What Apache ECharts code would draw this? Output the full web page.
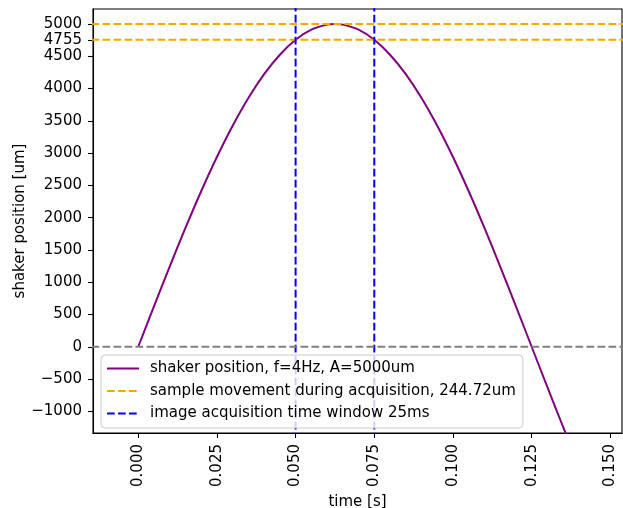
<!DOCTYPE html>
<html>
<head>
<meta charset="utf-8">
<script src="https://cdn.jsdelivr.net/npm/echarts@6/dist/echarts.min.js"></script>
<style>
  html, body { margin: 0; padding: 0; background: #fff; }
  #chart { width: 623px; height: 508px; }
</style>
</head>
<body>
<div id="chart"></div>
<script>
// time samples [s] and shaker position [um]
const times = [0, 0.005, 0.01, 0.015, 0.02, 0.025, 0.03, 0.035, 0.04, 0.045, 0.05,
  0.055, 0.06, 0.0625, 0.065, 0.07, 0.075, 0.08, 0.085, 0.09, 0.095, 0.1,
  0.105, 0.11, 0.115, 0.12, 0.125, 0.13, 0.135, 0.14];
const positions = [0, 627, 1243, 1841, 2409, 2939, 3423, 3853, 4222, 4524, 4755,
  4911, 4990, 5000, 4990, 4911, 4755, 4524, 4222, 3853, 3423, 2939,
  2409, 1841, 1243, 627, 0, -627, -1243, -1841];

const sampleLevels = [5000, 4755];      // orange dashed lines
const windowTimes = [0.05, 0.075];      // blue dashed lines
const xTicks = [0, 0.025, 0.05, 0.075, 0.1, 0.125, 0.15];
const yTicks = [-1000, -500, 0, 500, 1000, 1500, 2000, 2500, 3000, 3500, 4000, 4500, 4755, 5000];

const names = [
  'shaker position, f=4Hz, A=5000um',
  'sample movement during acquisition, 244.72um',
  'image acquisition time window 25ms'
];

const FONT = 'DejaVu Sans';
const FS = 15;
const dash = [7.7, 3.3];
const X_MIN = -0.01437, X_MAX = 0.1537, Y_MIN = -1336, Y_MAX = 5232;

const chart = echarts.init(document.getElementById('chart'));

const series = [
  {
    name: names[0],
    type: 'line',
    data: times.map((t, i) => [t, positions[i]]),
    smooth: 0.3,
    symbol: 'none',
    clip: true,
    lineStyle: { color: '#800080', width: 2 },
    itemStyle: { color: '#800080' },
    z: 2
  }
];
sampleLevels.forEach(v => series.push({
  name: names[1],
  type: 'line',
  data: [[X_MIN - 1, v], [X_MAX + 1, v]],
  symbol: 'none', clip: true, silent: true,
  lineStyle: { color: '#FFA500', width: 2, type: dash },
  itemStyle: { color: '#FFA500' },
  z: 3
}));
windowTimes.forEach(t => series.push({
  name: names[2],
  type: 'line',
  data: [[t, Y_MIN - 10000], [t, Y_MAX + 10000]],
  symbol: 'none', clip: true, silent: true,
  lineStyle: { color: '#0000FF', width: 2, type: dash },
  itemStyle: { color: '#0000FF' },
  z: 4
}));
series.push({
  name: 'zero',
  type: 'line',
  data: [[X_MIN - 1, 0], [X_MAX + 1, 0]],
  symbol: 'none', clip: true, silent: true,
  lineStyle: { color: '#808080', width: 2, type: dash },
  itemStyle: { color: '#808080' },
  z: 5
});

const option = {
  animation: false,
  textStyle: { fontFamily: FONT },
  grid: {
    left: 93, top: 9, width: 529, height: 424,
    containLabel: false, outerBoundsMode: 'none',
    show: true, borderColor: '#000', borderWidth: 1.1, backgroundColor: 'transparent'
  },
  legend: {
    data: names,
    orient: 'vertical',
    left: 101, top: 355,
    itemWidth: 32, itemHeight: 14, itemGap: 7.5,
    padding: [6, 7, 7, 5],
    backgroundColor: 'rgba(255,255,255,0.8)',
    borderColor: '#cccccc', borderWidth: 1, borderRadius: 4,
    itemStyle: { opacity: 0 },
    textStyle: { fontFamily: FONT, fontSize: FS, color: '#000', padding: [0, 0, 0, 6] },
    selectedMode: false,
    z: 10
  },
  xAxis: {
    type: 'value',
    min: X_MIN, max: X_MAX,
    name: 'time [s]', nameLocation: 'middle', nameGap: 62,
    nameMoveOverlap: false,
    nameTextStyle: { fontFamily: FONT, fontSize: FS, color: '#000' },
    axisLine: { show: true, onZero: false, lineStyle: { color: '#000', width: 1.1 } },
    axisTick: { show: true, length: 5, customValues: xTicks, lineStyle: { color: '#000', width: 1.1 } },
    axisLabel: {
      customValues: xTicks, rotate: 90, margin: 11,
      fontFamily: FONT, fontSize: FS, color: '#000',
      formatter: v => v.toFixed(3)
    },
    splitLine: { show: false }
  },
  yAxis: {
    type: 'value',
    min: Y_MIN, max: Y_MAX,
    name: 'shaker position [um]', nameLocation: 'middle', nameGap: 65,
    nameMoveOverlap: false,
    nameTextStyle: { fontFamily: FONT, fontSize: FS, color: '#000' },
    axisLine: { show: true, onZero: false, lineStyle: { color: '#000', width: 1.1 } },
    axisTick: { show: true, length: 5, customValues: yTicks, lineStyle: { color: '#000', width: 1.1 } },
    axisLabel: {
      customValues: yTicks, margin: 11,
      fontFamily: FONT, fontSize: FS, color: '#000',
      formatter: v => (v < 0 ? '\u2212' + Math.abs(v) : String(v))
    },
    splitLine: { show: false }
  },
  series: series
};

chart.setOption(option);
</script>
</body>
</html>
